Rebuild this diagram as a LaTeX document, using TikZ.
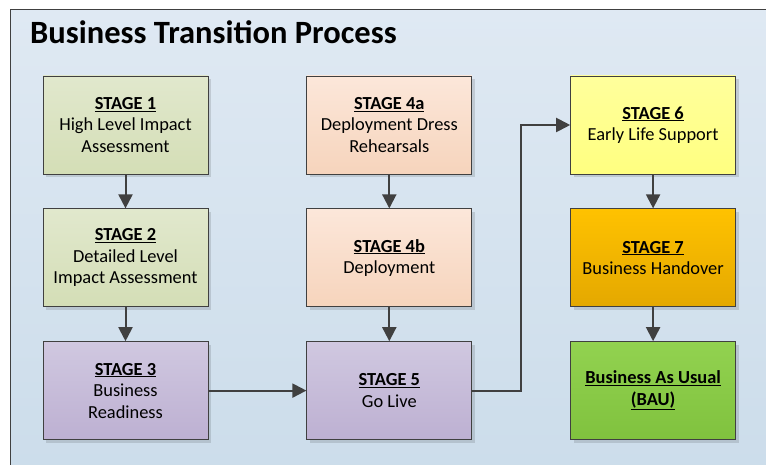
\documentclass[tikz,border=0pt]{standalone}
\usepackage{fontspec}
\setmainfont{Carlito}
\usepackage{tikz}
\usetikzlibrary{positioning}
\usetikzlibrary{arrows.meta}
\usetikzlibrary{shadows}
\definecolor{edge}{HTML}{404040}
\definecolor{paneltop}{HTML}{DFE9F3}
\definecolor{panelbot}{HTML}{CBDCEA}
\newcommand{\stagehd}[1]{\underline{\textbf{#1}}}
\tikzset{
   stage/.style={draw=edge, line width=0.8pt,
      minimum width=165pt, minimum height=98pt, inner sep=0pt,
      align=center, font=\fontsize{18.4}{21.5}\selectfont,
      drop shadow={shadow xshift=3pt, shadow yshift=-3pt,
         fill=black, opacity=0.12}},
   sagebox/.style={stage, top color={rgb,255:red,225;green,232;blue,205},
      bottom color={rgb,255:red,212;green,222;blue,182}},
   lilacbox/.style={stage, top color={rgb,255:red,208;green,200;blue,224},
      bottom color={rgb,255:red,189;green,176;blue,210}},
   peachbox/.style={stage, top color={rgb,255:red,252;green,231;blue,218},
      bottom color={rgb,255:red,246;green,212;blue,188}},
   lemonbox/.style={stage, top color={rgb,255:red,255;green,255;blue,156},
      bottom color={rgb,255:red,255;green,255;blue,128}},
   amberbox/.style={stage, top color={rgb,255:red,255;green,194;blue,0},
      bottom color={rgb,255:red,228;green,168;blue,0}},
   limebox/.style={stage, top color={rgb,255:red,146;green,210;blue,80},
      bottom color={rgb,255:red,128;green,194;blue,62}},
   flow/.style={draw=edge, line width=2pt,
      -{Triangle[length=14pt,width=14pt]}},
}

\begin{document}
\begin{tikzpicture}[x=1pt, y=-1pt]
   \useasboundingbox (0,0) rectangle (766,465);
   \clip (0,0) rectangle (766,465);
   % panel
   \draw[draw=edge, line width=1pt, top color=paneltop, bottom color=panelbot]
      (10,10) rectangle (790,490);
   \node[anchor=base west, inner sep=0pt,
      font=\fontsize{32.5}{38}\selectfont\bfseries] (title) at (30,44)
      {Business Transition Process};

   % first column
   \node[sagebox] (s1) at (125.5,125) {\stagehd{STAGE 1}\\High Level Impact\\Assessment};
   \node[sagebox, below=34pt of s1] (s2) {\stagehd{STAGE 2}\\Detailed Level\\Impact Assessment};
   \node[lilacbox, below=34pt of s2] (s3) {\stagehd{STAGE 3}\\Business\\Readiness};

   % second column
   \node[peachbox, right=98pt of s1] (s4a) {\stagehd{STAGE 4a}\\Deployment Dress\\Rehearsals};
   \node[peachbox, below=34pt of s4a] (s4b) {\stagehd{STAGE 4b}\\Deployment};
   \node[lilacbox, below=34pt of s4b] (s5) {\stagehd{STAGE 5}\\Go Live};

   % third column
   \node[lemonbox, right=98pt of s4a] (s6) {\stagehd{STAGE 6}\\Early Life Support};
   \node[amberbox, below=34pt of s6] (s7) {\stagehd{STAGE 7}\\Business Handover};
   \node[limebox, below=34pt of s7] (bau) {\stagehd{Business As Usual}\\\stagehd{(BAU)}};

   \draw[flow] (s1) -- (s2);
   \draw[flow] (s2) -- (s3);
   \draw[flow] (s3) -- (s5);
   \draw[flow] (s4a) -- (s4b);
   \draw[flow] (s4b) -- (s5);
   \draw[flow] (s5.east) -- ++(48.5,0) |- (s6.west);
   \draw[flow] (s6) -- (s7);
   \draw[flow] (s7) -- (bau);
\end{tikzpicture}
\end{document}
